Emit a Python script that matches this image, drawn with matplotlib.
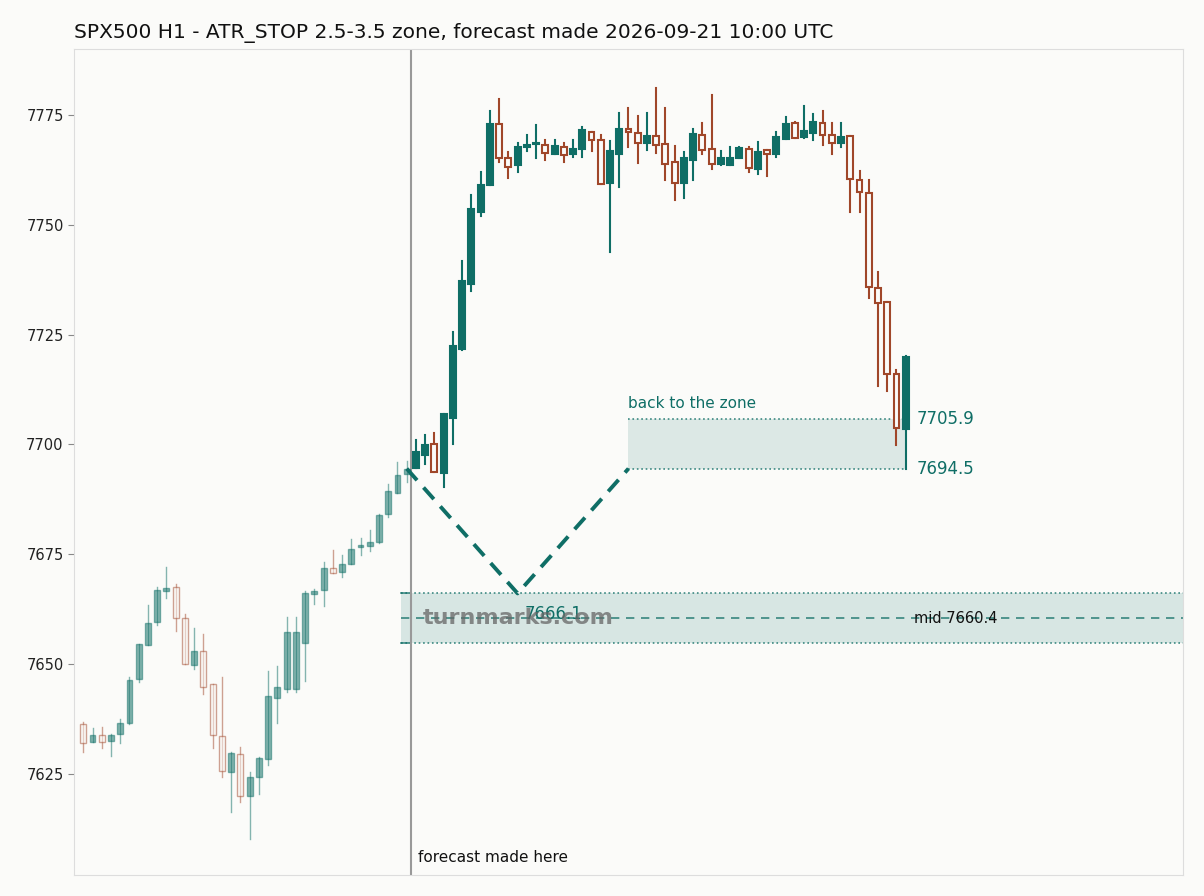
import matplotlib
matplotlib.use('Agg')
import matplotlib.pyplot as plt
from matplotlib.patches import Rectangle

# history candles (open, high, low, close)
hist_o = [7636.3, 7632.3, 7633.8, 7632.6, 7634.0, 7636.7, 7646.7, 7654.3, 7659.7, 7666.6,
          7667.5, 7660.4, 7649.7, 7652.9, 7645.4, 7633.6, 7625.5, 7629.5, 7620.1, 7624.4,
          7628.5, 7642.2, 7644.4, 7644.4, 7654.7, 7665.9, 7666.8, 7671.8, 7670.9, 7672.9,
          7676.6, 7677.0, 7677.8, 7684.1, 7689.0, 7693.2]
hist_h = [7636.9, 7635.4, 7635.8, 7634.2, 7637.4, 7647.1, 7654.6, 7663.4, 7667.5, 7672.0,
          7668.3, 7661.5, 7658.3, 7656.9, 7645.4, 7647.1, 7629.9, 7631.2, 7625.5, 7628.8,
          7648.4, 7649.6, 7660.8, 7660.8, 7666.6, 7667.0, 7673.3, 7676.0, 7674.8, 7678.4,
          7678.6, 7680.6, 7684.1, 7690.9, 7695.9, 7696.2]
hist_l = [7630.0, 7632.3, 7631.0, 7629.1, 7632.0, 7636.3, 7645.9, 7654.3, 7658.9, 7665.1,
          7657.5, 7650.0, 7649.0, 7643.1, 7631.0, 7624.3, 7616.3, 7618.6, 7610.3, 7620.5,
          7627.0, 7636.5, 7643.6, 7643.6, 7646.2, 7663.6, 7663.2, 7670.7, 7669.9, 7672.9,
          7674.8, 7675.7, 7677.6, 7683.5, 7689.0, 7691.5]
hist_c = [7632.0, 7633.8, 7632.3, 7633.8, 7636.5, 7646.5, 7654.5, 7659.4, 7666.8, 7667.3,
          7660.4, 7650.0, 7653.1, 7644.9, 7633.8, 7625.7, 7629.7, 7620.1, 7624.3, 7628.6,
          7642.7, 7644.8, 7657.2, 7657.2, 7666.1, 7666.6, 7671.8, 7670.7, 7672.7, 7676.3,
          7677.1, 7677.8, 7683.9, 7689.4, 7693.0, 7694.5]

# forecast candles
fc_o = [7694.6, 7697.7, 7700.0, 7693.4, 7706.1, 7721.8, 7736.6, 7753.0, 7759.0, 7773.0,
        7765.1, 7763.5, 7767.6, 7768.3, 7768.1, 7766.2, 7767.6, 7766.0, 7767.2, 7771.2,
        7769.2, 7759.4, 7766.1, 7771.9, 7770.8, 7768.7, 7770.1, 7768.3, 7764.2, 7759.6,
        7764.7, 7770.4, 7767.3, 7763.8, 7763.5, 7765.1, 7767.2, 7762.8, 7767.0, 7766.2,
        7769.6, 7773.1, 7769.9, 7770.9, 7773.1, 7770.4, 7768.7, 7770.1, 7760.3, 7757.3,
        7735.5, 7732.5, 7716.0, 7703.5]
fc_h = [7701.0, 7702.2, 7702.7, 7706.9, 7725.6, 7741.8, 7756.7, 7762.0, 7776.0, 7778.6,
        7766.6, 7768.6, 7770.4, 7772.7, 7769.2, 7769.2, 7768.5, 7769.2, 7772.3, 7771.2,
        7770.4, 7769.1, 7775.4, 7776.5, 7774.8, 7775.4, 7781.1, 7776.5, 7768.0, 7766.6,
        7771.7, 7773.1, 7779.5, 7766.8, 7767.7, 7767.6, 7767.7, 7768.8, 7767.0, 7771.1,
        7774.5, 7773.4, 7777.0, 7775.3, 7775.9, 7773.1, 7773.1, 7770.1, 7762.2, 7760.2,
        7739.3, 7732.5, 7716.9, 7720.1]
fc_l = [7694.6, 7695.5, 7693.7, 7690.4, 7700.0, 7721.6, 7734.9, 7752.0, 7759.0, 7764.2,
        7760.7, 7761.9, 7766.7, 7765.3, 7764.8, 7766.2, 7764.2, 7765.4, 7765.4, 7766.8,
        7759.2, 7743.7, 7758.6, 7767.6, 7764.0, 7767.0, 7766.4, 7760.1, 7755.6, 7756.2,
        7760.3, 7766.2, 7762.8, 7763.5, 7763.5, 7765.1, 7761.9, 7761.6, 7761.1, 7765.4,
        7769.6, 7769.8, 7769.8, 7769.3, 7768.2, 7766.2, 7767.8, 7752.9, 7752.8, 7733.4,
        7713.3, 7712.2, 7699.8, 7694.4]
fc_c = [7698.3, 7699.8, 7693.7, 7706.9, 7722.3, 7737.2, 7753.5, 7759.0, 7773.0, 7765.1,
        7763.2, 7767.6, 7768.2, 7768.6, 7766.3, 7767.9, 7765.9, 7767.2, 7771.5, 7769.3,
        7759.2, 7766.8, 7771.7, 7771.1, 7768.5, 7770.2, 7768.2, 7763.8, 7759.4, 7765.1,
        7770.6, 7767.0, 7763.8, 7765.1, 7765.1, 7767.4, 7762.9, 7766.6, 7766.1, 7770.0,
        7772.9, 7769.8, 7771.4, 7773.4, 7770.4, 7768.6, 7770.0, 7760.4, 7757.5, 7735.8,
        7732.1, 7716.0, 7703.7, 7719.8]

zone_lo, zone_mid, zone_hi = 7654.8, 7660.4, 7666.1
back_lo, back_hi = 7694.5, 7705.9
path_x = [35, 47, 59]
path_y = [7694.5, 7666.1, 7694.5]

GREEN = '#0f6e66'
RED = '#a0472a'
BG = '#fbfbf9'

fig = plt.figure(figsize=(12.04, 8.96), dpi=100, facecolor=BG)
ax = fig.add_axes([0.0615, 0.0234, 0.921, 0.9219], facecolor=BG)


def candles(ax, start, o, h, l, c, alpha, lw):
    for i in range(len(o)):
        x = start + i
        up = c[i] >= o[i]
        col = GREEN if up else RED
        ax.plot([x, x], [l[i], h[i]], color=col, lw=lw, alpha=alpha, zorder=3)
        lo, hi = min(o[i], c[i]), max(o[i], c[i])
        ax.add_patch(Rectangle((x - 0.32, lo), 0.64, max(hi - lo, 0.4),
                               facecolor=col if up else BG, edgecolor=col,
                               lw=lw, alpha=alpha, zorder=4))


candles(ax, 0, hist_o, hist_h, hist_l, hist_c, 0.5, 1.0)
candles(ax, len(hist_o), fc_o, fc_h, fc_l, fc_c, 1.0, 1.5)

# lower zone
ax.axhspan(zone_lo, zone_hi, xmin=(34.4 + 1) / 120, xmax=1, color=GREEN, alpha=0.15, lw=0, zorder=1)
ax.plot([34.4, 119], [zone_hi, zone_hi], ls=':', color=GREEN, lw=1.2, alpha=0.8, zorder=2)
ax.plot([34.4, 119], [zone_lo, zone_lo], ls=':', color=GREEN, lw=1.2, alpha=0.8, zorder=2)
ax.plot([34.4, 35.5], [zone_hi, zone_hi], color=GREEN, lw=1.2, alpha=0.8)
ax.plot([34.4, 35.5], [zone_lo, zone_lo], color=GREEN, lw=1.2, alpha=0.8)
ax.plot([34.4, 119], [zone_mid, zone_mid], ls=(0, (5, 4)), color=GREEN, lw=1.2, alpha=0.8, zorder=2)
ax.text(89.9, zone_mid, 'mid 7660.4', fontsize=10.5, va='center', color='#111111', zorder=5)

# back-to-zone box
ax.add_patch(Rectangle((59, back_lo), 30, back_hi - back_lo, facecolor=GREEN, alpha=0.13, lw=0, zorder=1))
ax.plot([59, 89], [back_hi, back_hi], ls=':', color=GREEN, lw=1.2, alpha=0.8)
ax.plot([59, 89], [back_lo, back_lo], ls=':', color=GREEN, lw=1.2, alpha=0.8)
ax.text(59, back_hi + 2.5, 'back to the zone', fontsize=11, color=GREEN)
ax.text(90.2, back_hi, '7705.9', fontsize=12, color=GREEN, va='center')
ax.text(90.2, back_lo, '7694.5', fontsize=12, color=GREEN, va='center')

# projected path
ax.plot(path_x, path_y, ls='--', color=GREEN, lw=2.8, dashes=(4, 2.5), zorder=5)
ax.text(47.8, 7661.4, '7666.1', fontsize=12, color=GREEN, va='center', zorder=6)

ax.text(36.7, 7660.4, 'turnmarks.com', fontsize=16, fontweight='bold', color='#666666',
        alpha=0.75, va='center', zorder=6)

# forecast line
ax.axvline(35.5, color='#999999', lw=1.5, zorder=2)
ax.text(36.2, 7605, 'forecast made here', fontsize=11, color='#111111')

ax.set_xlim(-1, 119)
ax.set_ylim(7602, 7790)
ax.set_yticks([7625, 7650, 7675, 7700, 7725, 7750, 7775])
ax.set_xticks([])
ax.tick_params(axis='y', labelsize=10.5, colors='#888888', labelcolor='#222222', length=4)
for s in ax.spines.values():
    s.set_color('#dddddd')

ax.set_title('SPX500 H1 - ATR_STOP 2.5-3.5 zone, forecast made 2026-09-21 10:00 UTC',
             loc='left', fontsize=14.5, color='#111111', pad=8)

fig.savefig('out.png', dpi=100, facecolor=BG)
